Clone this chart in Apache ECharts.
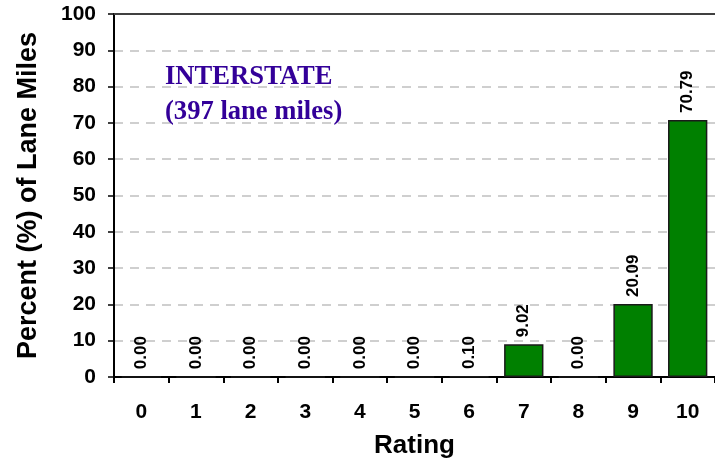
<!DOCTYPE html>
<html>
<head>
<meta charset="utf-8">
<script src="https://cdn.jsdelivr.net/npm/echarts@6/dist/echarts.min.js"></script>
<style>
  html, body { margin: 0; padding: 0; background: #fff; }
  #chart { width: 715px; height: 472px; }
</style>
</head>
<body>
<div id="chart"></div>
<script>
// ratings on the x axis and percent of lane miles for each
var ratings = ['0', '1', '2', '3', '4', '5', '6', '7', '8', '9', '10'];
var percents = [0.00, 0.00, 0.00, 0.00, 0.00, 0.00, 0.10, 9.02, 0.00, 20.09, 70.79];
var yTicks = { min: 0, max: 100, step: 10 };
var noteLines = ['INTERSTATE', '(397 lane miles)'];

var mychart = echarts.init(document.getElementById('chart'));
mychart.setOption({
  backgroundColor: '#fff',
  animation: false,
  title: {
    text: noteLines.join('\n'),
    left: 160,
    top: 55,
    textStyle: {
      fontFamily: 'Liberation Serif, Times New Roman, serif',
      fontWeight: 'bold',
      fontSize: 26.6,
      lineHeight: 35,
      color: '#330099'
    }
  },
  grid: {
    left: 114,
    right: -2,
    top: 14,
    bottom: 95
  },
  xAxis: [
    {
      type: 'category',
      data: ratings,
      name: 'Rating',
      nameLocation: 'middle',
      nameGap: 56,
      nameTextStyle: {
        fontFamily: 'Liberation Sans, Arial, sans-serif',
        fontWeight: 'bold',
        fontSize: 26,
        color: '#000'
      },
      axisLine: { lineStyle: { color: '#000', width: 2 } },
      axisTick: { show: true, alignWithLabel: false, length: 6, lineStyle: { color: '#000', width: 2 } },
      axisLabel: {
        margin: 25,
        fontFamily: 'Liberation Sans, Arial, sans-serif',
        fontWeight: 'bold',
        fontSize: 21,
        color: '#000'
      }
    },
    {
      // top frame line of the plot area
      type: 'category',
      data: ratings,
      position: 'top',
      axisLine: { lineStyle: { color: '#404040', width: 2 } },
      axisTick: { show: false },
      axisLabel: { show: false }
    }
  ],
  yAxis: {
    type: 'value',
    min: yTicks.min,
    max: yTicks.max,
    interval: yTicks.step,
    name: 'Percent (%) of Lane Miles',
    nameLocation: 'middle',
    nameGap: 72,
    nameTextStyle: {
      fontFamily: 'Liberation Sans, Arial, sans-serif',
      fontWeight: 'bold',
      fontSize: 27,
      color: '#000'
    },
    axisLine: { show: true, lineStyle: { color: '#000', width: 2 } },
    axisTick: { show: true, length: 6, lineStyle: { color: '#000', width: 1.5 } },
    axisLabel: {
      margin: 18,
      fontFamily: 'Liberation Sans, Arial, sans-serif',
      fontWeight: 'bold',
      fontSize: 21,
      color: '#000'
    },
    splitLine: {
      show: true,
      lineStyle: { color: '#c0c0c0', width: 1.5, type: [9, 7] }
    }
  },
  series: [
    {
      type: 'bar',
      data: percents,
      barWidth: '72%',
      itemStyle: {
        color: '#008000',
        borderColor: '#1a1a1a',
        borderWidth: 1.5
      },
      label: {
        show: true,
        position: 'top',
        rotate: 90,
        align: 'left',
        verticalAlign: 'middle',
        distance: 7,
        fontFamily: 'Liberation Sans, Arial, sans-serif',
        fontWeight: 'bold',
        fontSize: 17,
        color: '#000',
        formatter: function (p) {
          return p.value.toFixed(2);
        }
      }
    }
  ]
});
</script>
</body>
</html>
